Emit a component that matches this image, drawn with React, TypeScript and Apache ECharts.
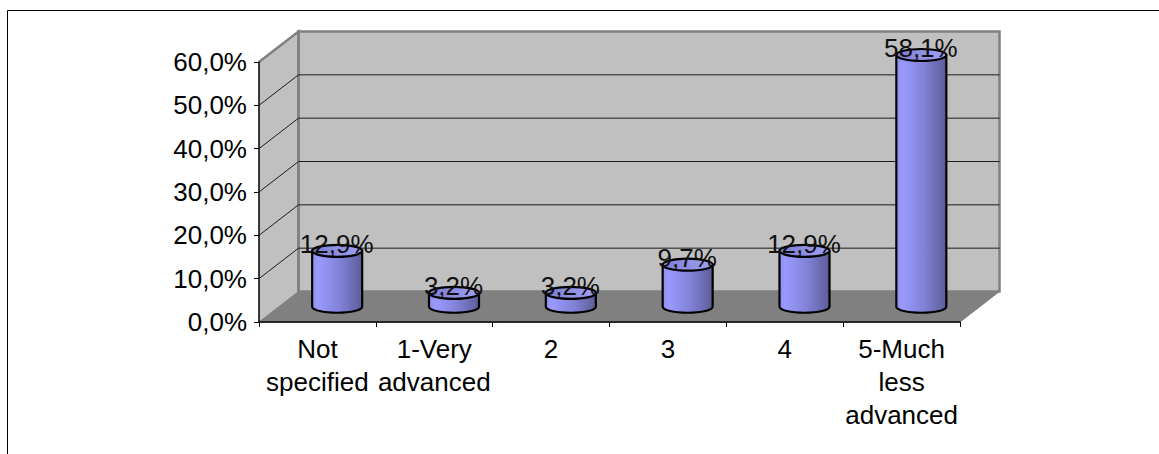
import React, { useEffect, useRef } from "react";
import * as echarts from "echarts";

const categories = ["Not\nspecified", "1-Very\nadvanced", "2", "3", "4", "5-Much\nless\nadvanced"];
const shares = [12.9, 3.2, 3.2, 9.7, 12.9, 58.1];
const shareLabels = ["12,9%", "3,2%", "3,2%", "9,7%", "12,9%", "58,1%"];
const wallTicks = [0, 10, 20, 30, 40, 50, 60];

const FONT = "'Liberation Sans', Arial, sans-serif";
const FONT_SIZE = 26;
// Oblique projection of the chart box: the back wall sits up and to the right of the front plane.
const DEPTH_X = 39.5;
const DEPTH_Y = -30.5;
const RX = 25;
const RY = 6;

function renderWall(_params: any, api: any) {
  const v = api.value(0);
  const [fx, fy] = api.coord([0, v]);
  const size = api.size([1, 0]);
  const left = fx - size[0] / 2;
  const right = left + size[0] * categories.length;
  const bx = left + DEPTH_X;
  const by = fy + DEPTH_Y;
  const children: any[] = [];
  if (v === 0) {
    const top = api.coord([0, 60])[1];
    children.push(
      {
        type: "polygon",
        shape: { points: [[left, top], [bx, top + DEPTH_Y], [bx, by], [left, fy]] },
        style: { fill: "#c0c0c0", stroke: "none" },
      },
      {
        type: "rect",
        shape: { x: bx, y: top + DEPTH_Y, width: right - left, height: fy - top },
        style: { fill: "#c0c0c0", stroke: "#808080", lineWidth: 2.5 },
      },
      {
        type: "polygon",
        shape: { points: [[left, fy], [bx, by], [right + DEPTH_X, by], [right, fy]] },
        style: { fill: "#808080", stroke: "#808080", lineWidth: 1 },
      },
      {
        type: "polyline",
        shape: { points: [[left, top], [bx, top + DEPTH_Y], [bx, by]] },
        style: { fill: "none", stroke: "#808080", lineWidth: 2.5 },
      }
    );
  } else if (v < 60) {
    children.push({
      type: "polyline",
      shape: { points: [[left, fy], [bx, by], [right + DEPTH_X, by]] },
      style: { fill: "none", stroke: "#1c1c1c", lineWidth: 1 },
    });
  }
  return { type: "group", children };
}

function renderCylinder(_params: any, api: any) {
  const i = api.value(0);
  const [tx, ty] = api.coord([i, api.value(1)]);
  const [, by] = api.coord([i, 0]);
  const cx = tx + DEPTH_X / 2;
  const topY = ty + DEPTH_Y / 2;
  const baseY = by + DEPTH_Y / 2;
  const body = new echarts.graphic.LinearGradient(0, 0, 1, 0, [
    { offset: 0, color: "#8f8ff0" },
    { offset: 0.12, color: "#9a9aff" },
    { offset: 0.55, color: "#8282d8" },
    { offset: 1, color: "#5c5c9a" },
  ]);
  const cap = new echarts.graphic.LinearGradient(0, 0, 1, 0, [
    { offset: 0, color: "#7c7cd0" },
    { offset: 1, color: "#a0a0f4" },
  ]);
  const l = cx - RX;
  const r = cx + RX;
  return {
    type: "group",
    children: [
      {
        type: "path",
        shape: {
          pathData: `M${l} ${topY}L${l} ${baseY}A${RX} ${RY} 0 0 0 ${r} ${baseY}L${r} ${topY}Z`,
        },
        style: { fill: body, stroke: "#000", lineWidth: 2.2 },
      },
      {
        type: "ellipse",
        shape: { cx, cy: topY, rx: RX, ry: RY },
        style: { fill: cap, stroke: "#000", lineWidth: 2.2 },
      },
      {
        type: "text",
        x: cx - 0.5,
        y: topY - 7,
        style: {
          text: shareLabels[i],
          fill: "#111",
          font: `${FONT_SIZE}px ${FONT}`,
          align: "center",
          verticalAlign: "middle",
        },
      },
    ],
  };
}

export default function App() {
  const ref = useRef<HTMLDivElement>(null);
  useEffect(() => {
    const chart = echarts.init(ref.current!, undefined, { renderer: "svg" });
    chart.setOption({
      animation: false,
      backgroundColor: "#fff",
      grid: { left: 259, top: 62, width: 701, height: 260, containLabel: false },
      graphic: [
        {
          type: "polyline",
          silent: true,
          shape: { points: [[7.5, 454], [7.5, 10.5], [1159, 10.5]] },
          style: { fill: "none", stroke: "#000", lineWidth: 1 },
        },
      ],
      xAxis: {
        type: "category",
        data: categories,
        boundaryGap: true,
        axisLine: { show: true, lineStyle: { color: "#000", width: 1.5 } },
        axisTick: { show: true, length: 5, alignWithLabel: false, lineStyle: { color: "#000" } },
        axisLabel: {
          interval: 0,
          hideOverlap: false,
          margin: 10,
          color: "#000",
          fontFamily: FONT,
          fontSize: FONT_SIZE,
          lineHeight: 33,
        },
        splitLine: { show: false },
        z: 5,
      },
      yAxis: {
        type: "value",
        min: 0,
        max: 60,
        interval: 10,
        axisLine: { show: true, lineStyle: { color: "#000", width: 1.5 } },
        axisTick: { show: true, length: 5, lineStyle: { color: "#000" } },
        axisLabel: {
          margin: 12,
          color: "#000",
          fontFamily: FONT,
          fontSize: FONT_SIZE,
          formatter: (v: number) => `${v.toFixed(1).replace(".", ",")}%`,
        },
        splitLine: { show: false },
        z: 5,
      },
      series: [
        {
          type: "custom",
          renderItem: renderWall,
          data: wallTicks.map((t) => [t]),
          encode: { y: 0 },
          clip: false,
          silent: true,
          z: 1,
        },
        {
          type: "custom",
          renderItem: renderCylinder,
          data: shares.map((v, i) => [i, v]),
          encode: { x: 0, y: 1 },
          clip: false,
          silent: true,
          z: 3,
        },
      ],
    });
    return () => chart.dispose();
  }, []);
  return <div ref={ref} style={{ position: "absolute", left: 0, top: 0, width: 1159, height: 454 }} />;
}
